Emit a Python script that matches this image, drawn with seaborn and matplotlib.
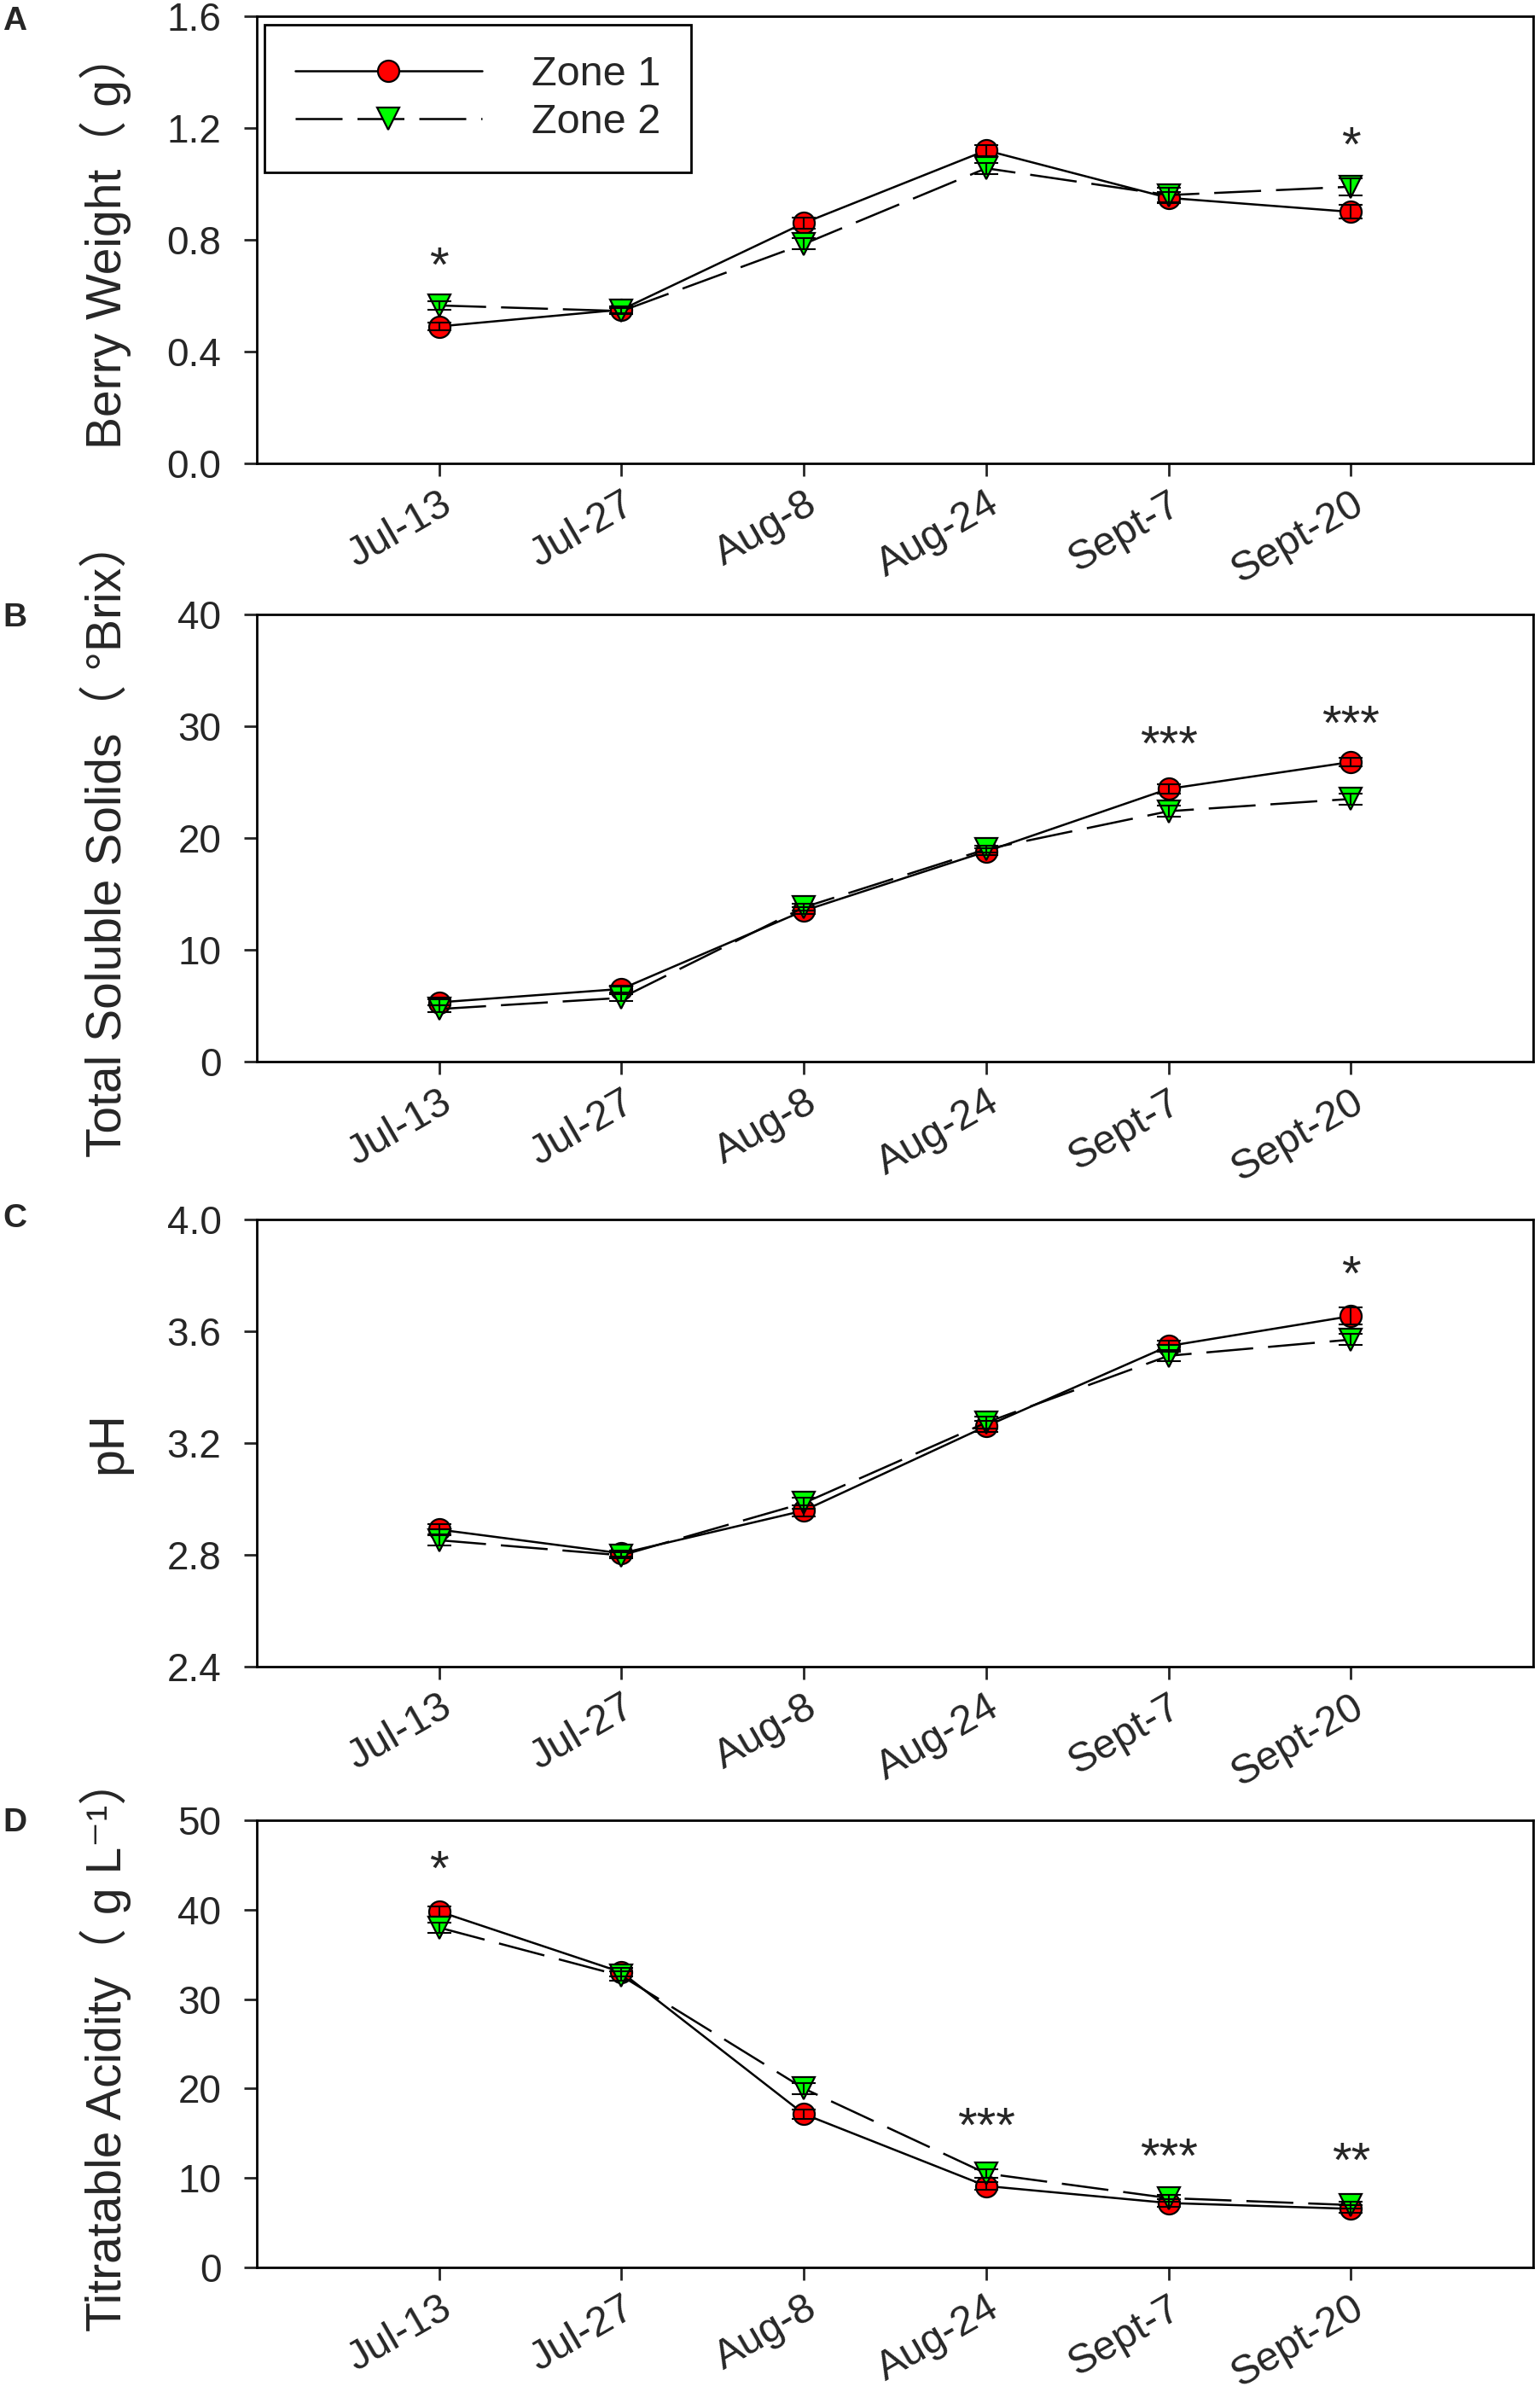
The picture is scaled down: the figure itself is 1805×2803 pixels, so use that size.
import numpy as np
import matplotlib
matplotlib.use("Agg")
import matplotlib.pyplot as plt
import matplotlib.transforms as mtransforms
import seaborn as sns

# Style
sns.set_style("ticks")
plt.rcParams['font.family'] = ['Liberation Sans', 'Noto Sans CJK SC', 'DejaVu Sans']

# Sampling dates
dates = ["Jul-13", "Jul-27", "Aug-8", "Aug-24", "Sept-7", "Sept-20"]

# A: berry weight (g)
weight_z1 = [0.49, 0.55, 0.86, 1.12, 0.95, 0.90]
weight_z2 = [0.565, 0.545, 0.785, 1.056, 0.96, 0.99]
weight_z1_se = [0.015, 0.012, 0.02, 0.02, 0.02, 0.025]
weight_z2_se = [0.015, 0.012, 0.02, 0.02, 0.025, 0.03]
weight_sig = [(0, "*", 0.73), (5, "*", 1.16)]

# B: total soluble solids (Brix)
tss_z1 = [5.3, 6.5, 13.5, 18.8, 24.4, 26.8]
tss_z2 = [4.7, 5.7, 13.8, 19.0, 22.4, 23.5]
tss_z1_se = [0.3, 0.3, 0.3, 0.3, 0.4, 0.4]
tss_z2_se = [0.3, 0.3, 0.3, 0.3, 0.5, 0.5]
tss_sig = [(4, "***", 29.0), (5, "***", 30.8)]

# C: pH
ph_z1 = [2.89, 2.805, 2.958, 3.26, 3.547, 3.654]
ph_z2 = [2.852, 2.798, 2.985, 3.273, 3.512, 3.57]
ph_z1_se = [0.02, 0.01, 0.02, 0.02, 0.02, 0.03]
ph_z2_se = [0.02, 0.01, 0.02, 0.02, 0.02, 0.02]
ph_sig = [(5, "*", 3.826)]

# D: titratable acidity (g/L)
ta_z1 = [39.8, 33.0, 17.15, 9.1, 7.2, 6.55]
ta_z2 = [38.0, 32.6, 20.0, 10.5, 7.75, 6.97]
ta_z1_se = [0.6, 0.5, 0.5, 0.4, 0.4, 0.4]
ta_z2_se = [0.6, 0.5, 0.6, 0.5, 0.4, 0.4]
ta_sig = [(0, "*", 45.3), (3, "***", 16.5), (4, "***", 13.1), (5, "**", 12.6)]

fig = plt.figure(figsize=(18.05, 28.03), dpi=100)

left, width, height = 0.1668, 0.8288, 0.1869
bottoms = [0.8063, 0.5562, 0.3033, 0.0521]
letter_y = [0.9975, 0.7480, 0.4970, 0.2445]

panels = [
    ("A", weight_z1, weight_z2, weight_z1_se, weight_z2_se, weight_sig,
     (0, 1.6), np.arange(0, 1.61, 0.4), "{:.1f}", "Berry Weight（ g）"),
    ("B", tss_z1, tss_z2, tss_z1_se, tss_z2_se, tss_sig,
     (0, 40), np.arange(0, 41, 10), "{:.0f}", "Total Soluble Solids（ °Brix）"),
    ("C", ph_z1, ph_z2, ph_z1_se, ph_z2_se, ph_sig,
     (2.4, 4.0), np.arange(2.4, 4.01, 0.4), "{:.1f}", "pH"),
    ("D", ta_z1, ta_z2, ta_z1_se, ta_z2_se, ta_sig,
     (0, 50), np.arange(0, 51, 10), "{:.0f}", "Titratable Acidity（ g L⁻¹）"),
]

x = np.arange(len(dates))

for k, (letter, z1, z2, e1, e2, sig, ylim, yticks, fmt, ylabel) in enumerate(panels):
    ax = fig.add_axes([left, bottoms[k], width, height])

    sns.lineplot(x=x, y=z1, ax=ax, color="black", lw=1.8, marker="o",
                 markersize=18, markerfacecolor="red", markeredgecolor="black",
                 markeredgewidth=1.6, label="Zone 1", zorder=3)
    sns.lineplot(x=x, y=z2, ax=ax, color="black", lw=1.8, marker="v",
                 markersize=19, markerfacecolor="#00ff00", markeredgecolor="black",
                 markeredgewidth=1.6, linestyle=(0, (22, 7)), label="Zone 2", zorder=4)

    ax.errorbar(x, z1, yerr=e1, fmt="none", ecolor="black", elinewidth=1.5,
                capsize=10, capthick=1.5, zorder=5)
    ax.errorbar(x, z2, yerr=e2, fmt="none", ecolor="black", elinewidth=1.5,
                capsize=10, capthick=1.5, zorder=6)

    # significance marks
    star_tr = mtransforms.offset_copy(ax.transData, fig=fig, y=-8, units="points")
    for i, txt, yv in sig:
        ax.text(i, yv, txt, ha="center", va="center", fontsize=42,
                transform=star_tr)

    ax.set_xlim(-1, 6)
    ax.set_ylim(*ylim)
    ax.set_yticks(yticks)
    ax.set_yticklabels([fmt.format(v) for v in yticks])
    ax.set_xticks(x)
    ax.set_xticklabels(dates, rotation=30, ha="right", rotation_mode="anchor")

    for s in ax.spines.values():
        s.set_linewidth(2)
        s.set_color("black")
    ax.tick_params(axis="y", direction="out", length=11, width=2, labelsize=33, pad=19)
    ax.tick_params(axis="x", direction="out", length=11, width=2, labelsize=35, pad=7)

    ax.set_xlabel("")
    ax.set_ylabel(ylabel, fontsize=41)
    ax.yaxis.set_label_coords(-0.098, 0.5)

    if letter == "A":
        handles, labels = ax.get_legend_handles_labels()
        leg = ax.legend(handles, labels, loc="upper left",
                        bbox_to_anchor=(0.006, 0.981), borderaxespad=0,
                        fontsize=35, numpoints=1, handlelength=4.5,
                        handletextpad=1.2, labelspacing=0.22, borderpad=0.74,
                        fancybox=False, framealpha=1, edgecolor="black")
        leg.get_frame().set_linewidth(2)
    else:
        lg = ax.get_legend()
        if lg is not None:
            lg.remove()

    fig.text(0.0017, letter_y[k], letter, fontsize=28, fontweight="bold",
             ha="left", va="top")

fig.savefig("out.png", dpi=100, facecolor="white")
